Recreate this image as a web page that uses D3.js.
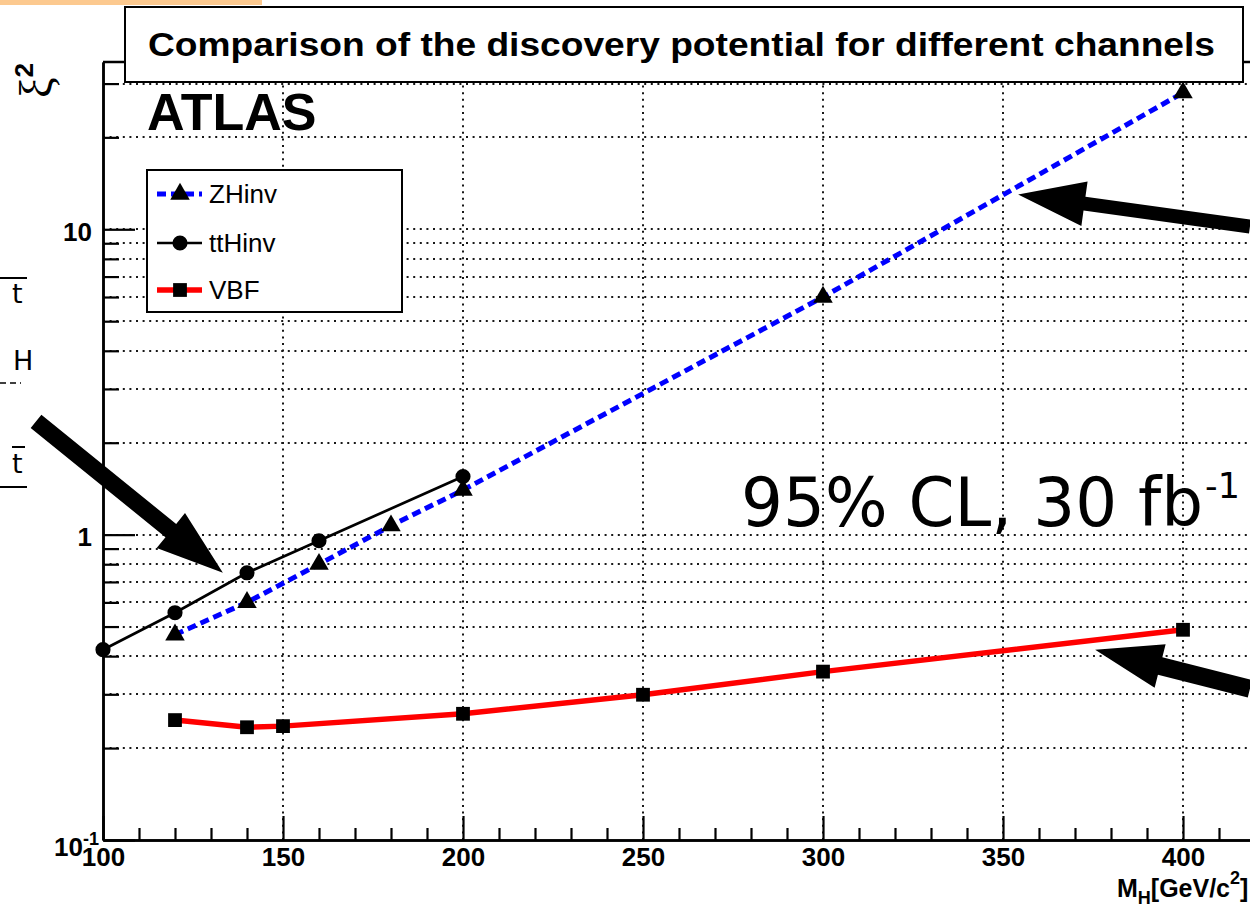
<!DOCTYPE html>
<html>
<head>
<meta charset="utf-8">
<script src="https://cdn.jsdelivr.net/npm/d3@7"></script>
<style>
body{margin:0;background:#fff;}
svg{display:block;}
.tick text{font-family:"Liberation Sans",Arial,sans-serif;font-weight:bold;font-size:26px;fill:#000;}
</style>
</head>
<body>
<div id="viz"></div>
<script>
// values
const massZH = [120,140,160,180,200,300,400];
const xiZH   = [0.47,0.6,0.8,1.07,1.4,6.0,28];
const massTT = [100,120,140,160,200];
const xiTT   = [0.42,0.555,0.75,0.955,1.55];
const massVBF = [120,140,150,200,250,300,400];
const xiVBF   = [0.247,0.234,0.236,0.259,0.299,0.356,0.488];

const seriesNames = ["ZHinv","ttHinv","VBF"];
const xMajorTicks = [100,150,200,250,300,350,400];
const yMajorTicks = [0.1,1,10];
const yMinorTicks = [0.2,0.3,0.4,0.5,0.6,0.7,0.8,0.9,2,3,4,5,6,7,8,9,20,30];

const W = 1250, H = 907;
const plotLeft = 103, plotRight = 1255, plotTop = 62, plotBottom = 840;

const svg = d3.select("#viz").append("svg").attr("width",W).attr("height",H);

const x = d3.scaleLinear().domain([100,420]).range([plotLeft,plotRight]);
const y = d3.scaleLog().domain([0.1,35.3]).range([plotBottom,plotTop]);
const xMinorTicks = d3.range(110,420,10).filter(d=>d%50!==0);

// grid
const grid = svg.append("g").attr("stroke","#000").attr("stroke-width",2).attr("stroke-dasharray","2,4.6").attr("opacity",0.9);
grid.selectAll("line.h").data(yMinorTicks.concat([1,10])).enter().append("line")
  .attr("x1",plotLeft).attr("x2",W).attr("y1",d=>Math.round(y(d))).attr("y2",d=>Math.round(y(d)));
grid.selectAll("line.v").data(xMajorTicks.slice(1)).enter().append("line")
  .attr("y1",plotBottom).attr("y2",plotTop).attr("x1",d=>Math.round(x(d))).attr("x2",d=>Math.round(x(d)));

// frame top
svg.append("line").attr("x1",plotLeft).attr("x2",W).attr("y1",plotTop).attr("y2",plotTop).attr("stroke","#000").attr("stroke-width",2.5);

// series
const line = d3.line().x(d=>x(d[0])).y(d=>y(d[1]));
const zh = d3.zip(massZH,xiZH), tt = d3.zip(massTT,xiTT), vbf = d3.zip(massVBF,xiVBF);

svg.append("path").datum(zh).attr("d",line).attr("fill","none").attr("stroke","#0000ff").attr("stroke-width",5).attr("stroke-dasharray","9,5");
svg.append("path").datum(tt).attr("d",line).attr("fill","none").attr("stroke","#000").attr("stroke-width",2.7);
svg.append("path").datum(vbf).attr("d",line).attr("fill","none").attr("stroke","#ff0000").attr("stroke-width",5.5);

const tri = d3.symbol(d3.symbolTriangle,165), circ = d3.symbol(d3.symbolCircle,180), sq = d3.symbol(d3.symbolSquare,190);
svg.selectAll("path.zh").data(zh).enter().append("path").attr("d",tri).attr("transform",d=>`translate(${x(d[0])},${y(d[1])})`);
svg.selectAll("path.tt").data(tt).enter().append("path").attr("d",circ).attr("transform",d=>`translate(${x(d[0])},${y(d[1])})`);
svg.selectAll("path.vbf").data(vbf).enter().append("path").attr("d",sq).attr("transform",d=>`translate(${x(d[0])},${y(d[1])})`);

// axes
svg.append("g").attr("transform",`translate(0,${plotBottom})`)
  .call(d3.axisBottom(x).tickValues(xMajorTicks).tickSize(-24).tickSizeOuter(0).tickPadding(8).tickFormat(d3.format("d")));
svg.append("g").attr("transform",`translate(0,${plotBottom})`)
  .call(d3.axisBottom(x).tickValues(xMinorTicks).tickSize(-12).tickSizeOuter(0).tickFormat(""));
const yAxis = svg.append("g").attr("transform",`translate(${plotLeft},0)`)
  .call(d3.axisLeft(y).tickValues(yMajorTicks).tickSize(-32).tickSizeOuter(0).tickPadding(11).tickFormat(d=>d>=1?d3.format("d")(d):"10"));
svg.append("g").attr("transform",`translate(${plotLeft},0)`)
  .call(d3.axisLeft(y).tickValues(yMinorTicks).tickSize(-16).tickSizeOuter(0).tickFormat(""));
svg.selectAll(".domain").attr("stroke","#000").attr("stroke-width",2.5);
svg.selectAll(".tick line").attr("stroke","#000").attr("stroke-width",2.2);
yAxis.selectAll(".tick text").attr("dy","0.42em");
// 10^-1 label
yAxis.selectAll(".tick text").filter(d=>d<1).attr("x",-4).attr("dy","0.6em")
  .append("tspan").text("-1").attr("font-size",18).attr("dy",-11);

// x title
const xt = svg.append("text").attr("x",1117).attr("y",897)
  .attr("font-family","Liberation Sans, Arial, sans-serif").attr("font-weight","bold").attr("font-size",25);
xt.append("tspan").text("M");
xt.append("tspan").text("H").attr("font-size",18).attr("dy",7);
xt.append("tspan").text("[GeV/c").attr("dy",-7);
xt.append("tspan").text("2").attr("font-size",18).attr("dy",-13);
xt.append("tspan").text("]").attr("dy",13);

// y title
const yt = svg.append("text").attr("transform","translate(52,98) rotate(-90)")
  .attr("font-family","Liberation Serif, serif").attr("font-size",46);
yt.append("tspan").text("ξ");
yt.append("tspan").text("2").attr("font-family","Liberation Sans, Arial, sans-serif").attr("font-weight","bold").attr("font-size",26).attr("dy",-19);

// legend
const leg = svg.append("g");
leg.append("rect").attr("x",147).attr("y",170).attr("width",255).attr("height",142).attr("fill","#fff").attr("stroke","#000").attr("stroke-width",2);
const legY = [194,243,290];
const legStroke = ["#0000ff","#000","#ff0000"], legWidth = [5,2.7,5.5], legDash = ["9,5",null,null], legSym = [tri,circ,sq];
seriesNames.forEach((n,i)=>{
  leg.append("line").attr("x1",157).attr("x2",202).attr("y1",legY[i]).attr("y2",legY[i])
    .attr("stroke",legStroke[i]).attr("stroke-width",legWidth[i]).attr("stroke-dasharray",legDash[i]);
  leg.append("path").attr("d",legSym[i]).attr("transform",`translate(180,${legY[i]})`);
  leg.append("text").text(n).attr("x",209).attr("y",legY[i]+9)
    .attr("font-family","Liberation Sans, Arial, sans-serif").attr("font-size",26);
});

// title box
svg.append("rect").attr("x",125).attr("y",7).attr("width",1118).attr("height",75).attr("fill","#fff").attr("stroke","#000").attr("stroke-width",2);
svg.append("text").text("Comparison of the discovery potential for different channels")
  .attr("x",148).attr("y",56).attr("textLength",1067).attr("lengthAdjust","spacingAndGlyphs")
  .attr("font-family","Liberation Sans, Arial, sans-serif").attr("font-weight","bold").attr("font-size",34);

svg.append("text").text("ATLAS").attr("x",147).attr("y",130)
  .attr("font-family","Liberation Sans, Arial, sans-serif").attr("font-weight","bold").attr("font-size",52);

// big label
const big = svg.append("text").attr("transform","translate(741,526) scale(0.97,1)")
  .attr("font-family","DejaVu Sans, sans-serif").attr("font-size",68);
big.append("tspan").text("95% CL, 30 fb");
big.append("tspan").text("-1").attr("font-size",36).attr("dy",-28).attr("dx",2);

// arrows (data coordinates: start, tip)
const arrows = [
  {from:[81.4,2.35], to:[133.3,0.75], w:17},
  {from:[418.6,10.2], to:[354.2,13.0], w:14},
  {from:[418.6,0.313], to:[375.6,0.42], w:18}
];
const headL = 67, headW = 45;
arrows.forEach(a=>{
  const x0=x(a.from[0]), y0=y(a.from[1]), x1=x(a.to[0]), y1=y(a.to[1]);
  const len=Math.hypot(x1-x0,y1-y0), ux=(x1-x0)/len, uy=(y1-y0)/len, px=-uy, py=ux;
  const bx=x1-ux*headL, by=y1-uy*headL;
  const pts=[[x0+px*a.w/2,y0+py*a.w/2],[bx+px*a.w/2,by+py*a.w/2],[bx+px*headW/2,by+py*headW/2],[x1,y1],
    [bx-px*headW/2,by-py*headW/2],[bx-px*a.w/2,by-py*a.w/2],[x0-px*a.w/2,y0-py*a.w/2]];
  svg.append("polygon").attr("points",pts.map(p=>p.join(",")).join(" ")).attr("fill","#000");
});

// fragments of the slide at the left edge
const frag = svg.append("g").attr("font-family","DejaVu Sans, sans-serif").attr("fill","#000");
frag.append("line").attr("x1",0).attr("x2",27).attr("y1",278).attr("y2",278).attr("stroke","#000").attr("stroke-width",2);
frag.append("text").text("t").attr("x",12).attr("y",303).attr("font-size",27);
frag.append("text").text("H").attr("x",13).attr("y",370).attr("font-size",27);
frag.append("line").attr("x1",0).attr("x2",21).attr("y1",383).attr("y2",383).attr("stroke","#000").attr("stroke-width",1.5).attr("stroke-dasharray","6,4");
frag.append("line").attr("x1",12).attr("x2",25).attr("y1",447).attr("y2",447).attr("stroke","#000").attr("stroke-width",2);
frag.append("text").text("t").attr("x",12).attr("y",473).attr("font-size",27);
frag.append("line").attr("x1",0).attr("x2",27).attr("y1",487).attr("y2",487).attr("stroke","#000").attr("stroke-width",2);

// orange strip
svg.append("rect").attr("x",0).attr("y",0).attr("width",262).attr("height",5).attr("fill","#fcc98f");
</script>
</body>
</html>
